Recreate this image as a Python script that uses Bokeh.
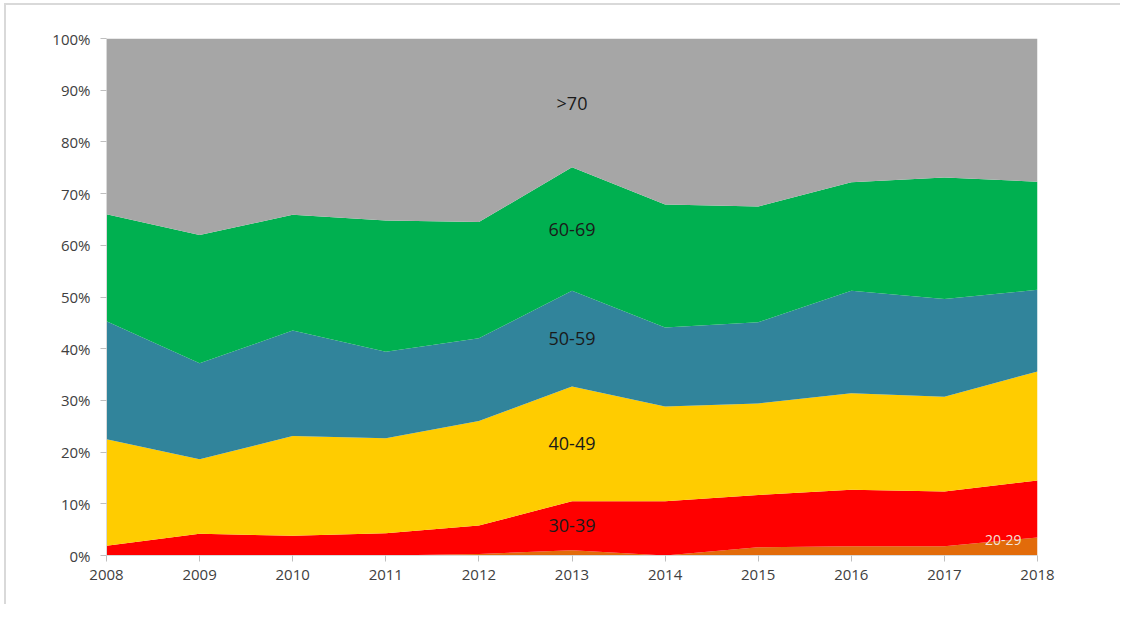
from bokeh.plotting import figure
from bokeh.models import ColumnDataSource, Range1d, FixedTicker, PrintfTickFormatter
from bokeh.core.properties import value
from bokeh.embed import file_html
from bokeh.resources import INLINE

years = [2008, 2009, 2010, 2011, 2012, 2013, 2014, 2015, 2016, 2017, 2018]
series_names = ["20-29", "30-39", "40-49", "50-59", "60-69", ">70"]
s20_29 = [0.0, 0.0, 0.0, 0.0, 0.3, 1.0, 0.0, 1.6, 1.8, 1.8, 3.5]
s30_39 = [1.9, 4.2, 3.8, 4.3, 5.5, 9.5, 10.5, 10.1, 10.9, 10.6, 11.0]
s40_49 = [20.6, 14.4, 19.3, 18.4, 20.2, 22.2, 18.3, 17.7, 18.7, 18.3, 21.1]
s50_59 = [22.8, 18.6, 20.4, 16.7, 16.0, 18.5, 15.3, 15.7, 19.8, 18.9, 15.8]
s60_69 = [20.7, 24.8, 22.4, 25.4, 22.5, 23.9, 23.8, 22.4, 21.0, 23.5, 20.9]
s70_plus = [34.0, 38.0, 34.1, 35.2, 35.5, 24.9, 32.1, 32.5, 27.8, 26.9, 27.7]
y_ticks = [0, 10, 20, 30, 40, 50, 60, 70, 80, 90, 100]

colors = ["#E26B0A", "#FF0000", "#FFCC00", "#31849B", "#00B050", "#A6A6A6"]

series = [s20_29, s30_39, s40_49, s50_59, s60_69, s70_plus]
data = {"x": years}
for name, vals in zip(series_names, series):
    data[name] = vals
src = ColumnDataSource(data)

p = figure(width=1116, height=601, output_backend="svg", toolbar_location=None,
           x_range=Range1d(2008, 2018), y_range=Range1d(0, 100),
           min_border_left=100, min_border_right=85, min_border_top=33, min_border_bottom=51)
p.styles = {"border-left": "2px solid #d9d9d9", "border-top": "2px solid #d9d9d9",
            "margin-left": "4px", "margin-top": "3px"}
p.outline_line_color = None
p.grid.visible = False

p.varea_stack(stackers=series_names, x="x", color=colors, source=src)

# labels at the middle of each band for 2013 (Excel-style data labels)
idx = years.index(2013)
cum = 0.0
lab_x, lab_y, lab_t = [], [], []
for name, vals in zip(series_names, series):
    mid = cum + vals[idx] / 2.0
    cum += vals[idx]
    if name != "20-29":
        lab_x.append(2013)
        lab_y.append(mid)
        lab_t.append(name)
p.text(x=lab_x, y=lab_y, text=lab_t, text_align="center", text_baseline="middle",
       text_font=value("Open Sans"), text_font_size="18px", text_color="#1a1a1a")
p.text(x=[2018], y=[3.0], text=["20-29"], text_align="right", text_baseline="middle",
       x_offset=-16, text_font=value("Open Sans"), text_font_size="14px", text_color="#F3E3DA")

for ax in (p.xaxis[0], p.yaxis[0]):
    ax.axis_line_color = "#d9d9d9"
    ax.major_tick_line_color = "#bfbfbf"
    ax.major_tick_in = 0
    ax.major_tick_out = 6
    ax.minor_tick_line_color = None
    ax.major_label_text_font = "Open Sans"
    ax.major_label_text_font_size = "15px"
    ax.major_label_text_color = "#404040"

p.xaxis.ticker = FixedTicker(ticks=years)
p.xaxis.major_label_standoff = 8
p.yaxis.ticker = FixedTicker(ticks=y_ticks)
p.yaxis.formatter = PrintfTickFormatter(format="%d%%")
p.yaxis.major_label_standoff = 10

open("out.html", "w").write(file_html(p, INLINE))
